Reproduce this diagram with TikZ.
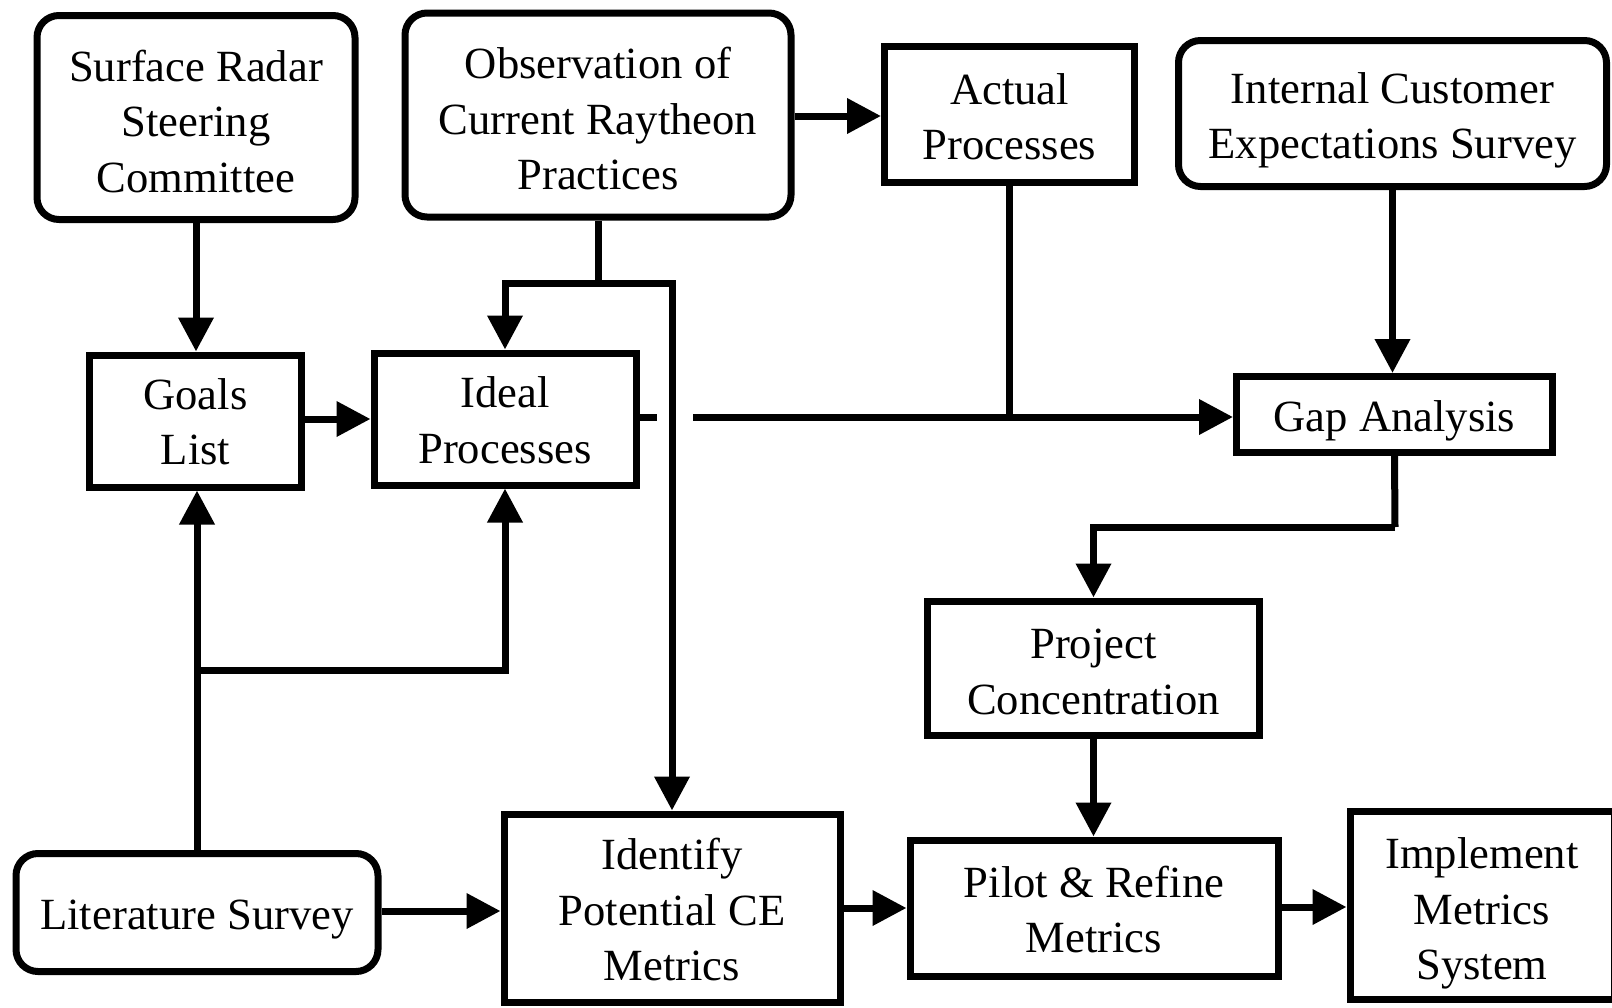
\documentclass[tikz,border=0pt]{standalone}
\usepackage{fontspec}
\setmainfont{Liberation Serif}
\usetikzlibrary{arrows.meta}
% centred lines of box text; extra room above pushes them a little below the middle
\newcommand{\boxlines}[2][3.1pt]{\raisebox{0pt}[\dimexpr\height+#1+#1\relax][\depth]{\begin{tabular}{@{}c@{}}#2\end{tabular}}}
\begin{document}
\begin{tikzpicture}[x=0.5pt,y=-0.5pt,
  box/.style={draw=black, line width=3.5pt, fill=white, inner sep=0pt,
    font=\fontsize{22.3}{27.7}\selectfont},
  rbox/.style={box, rounded corners=11pt},
  link/.style={line width=3.5pt},
  arr/.style={link, -{Triangle[length=17pt,width=17pt]}}]
\useasboundingbox (0,0) rectangle (1612,1007);
\clip (0,0) rectangle (1612,1007);

% top row
\node[rbox, minimum width=159pt, minimum height=102pt] (surface) at (196,117.5)
  {\boxlines[4.1pt]{Surface Radar\\Steering\\Committee}};
\node[rbox, minimum width=193pt, minimum height=102pt] (obs) at (598,115)
  {\boxlines[4.1pt]{Observation of\\Current Raytheon\\Practices}};
\node[box, minimum width=125pt, minimum height=68pt] (actual) at (1009.5,114.5)
  {\boxlines{Actual\\Processes}};
\node[rbox, minimum width=214pt, minimum height=73pt] (internal) at (1392.5,113.5)
  {\boxlines[3.3pt]{Internal Customer\\Expectations Survey}};

% middle row
\node[box, minimum width=106pt, minimum height=66pt] (goals) at (195.5,421)
  {\boxlines[2.6pt]{Goals\\List}};
\node[box, minimum width=131pt, minimum height=66pt] (ideal) at (505,419)
  {\boxlines[2.8pt]{Ideal\\Processes}};
\node[box, minimum width=158pt, minimum height=38pt] (gap) at (1394.5,414.5)
  {\boxlines{Gap Analysis}};
\node[box, minimum width=166pt, minimum height=67pt] (proj) at (1093.5,668)
  {\boxlines[3.8pt]{Project\\Concentration}};

% bottom row
\node[rbox, minimum width=181pt, minimum height=59pt] (lit) at (197,912.5)
  {\boxlines{Literature Survey}};
\node[box, minimum width=168pt, minimum height=94pt] (ident) at (672,908)
  {\boxlines{Identify\\Potential CE\\Metrics}};
\node[box, minimum width=184pt, minimum height=68pt] (pilot) at (1094,908)
  {\boxlines{Pilot \& Refine\\Metrics}};
\node[box, minimum width=132pt, minimum height=94pt] (impl) at (1482,905)
  {\boxlines[4.1pt]{Implement\\Metrics\\System}};

% junction points
\coordinate (obsj) at (598,283);
\coordinate (litj) at (197,670);
\coordinate (gapj) at (1395,527);
\coordinate (jl) at (657,417);
\coordinate (jr) at (693,417);

% connectors
\draw[arr] (surface.south) -- (surface.south |- goals.north);
\draw[link] (obs.south) -- (obsj);
\draw[arr] (obsj) -| (ideal.north);
\draw[arr] (obsj) -| (ident.north);
\draw[arr] (obs.east |- 0,116) -- (actual.west |- 0,116);
\draw[arr] (goals.east |- 0,419) -- (ideal.west |- 0,419);
\draw[link] (ideal.east |- jl) -- (jl);
\draw[arr] (jr) -- (jr -| gap.west);
\draw[link] (actual.south) -- (actual.south |- jr);
\draw[arr] (internal.south) -- (internal.south |- gap.north);
\draw[link] (gap.south) -- (gapj);
\draw[arr] (gapj) -| (proj.north);
\draw[arr] (proj.south) -- (proj.south |- pilot.north);
\draw[arr] (lit.north) -- (lit.north |- goals.south);
\draw[arr] (litj) -| (ideal.south);
\draw[arr] (lit.east |- 0,911) -- (ident.west |- 0,911);
\draw[arr] (ident.east |- 0,908) -- (pilot.west |- 0,908);
\draw[arr] (pilot.east |- 0,907) -- (impl.west |- 0,907);
\end{tikzpicture}
\end{document}
